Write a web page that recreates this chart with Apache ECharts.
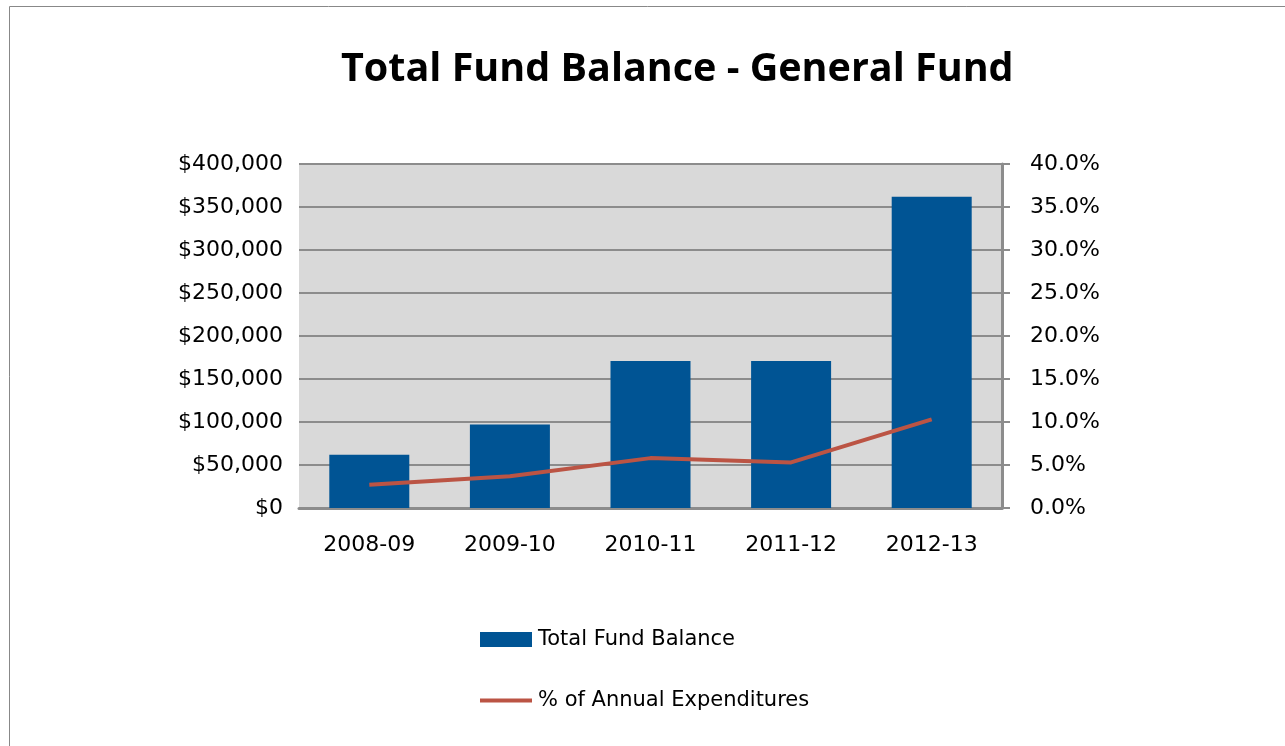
<!DOCTYPE html>
<html>
<head>
<meta charset="utf-8">
<script src="https://cdn.jsdelivr.net/npm/echarts@6/dist/echarts.min.js"></script>
<style>html,body{margin:0;padding:0;background:#fff;}#c{width:1285px;height:746px;}</style>
</head>
<body>
<div id="c"></div>
<script>
const categories = ['2008-09', '2009-10', '2010-11', '2011-12', '2012-13'];
const fundBalance = [62000, 97000, 171000, 171000, 362000];
const pctExpenditures = [2.7, 3.7, 5.8, 5.3, 10.3];
const leftTicks = { min: 0, max: 400000, interval: 50000 };
const rightTicks = { min: 0, max: 40, interval: 5 };

const titleFont = '"Open Sans", "Noto Sans", sans-serif';
const font = '"DejaVu Sans", sans-serif';
const chart = echarts.init(document.getElementById('c'));
chart.setOption({
  animation: false,
  backgroundColor: '#fff',
  title: {
    text: 'Total Fund Balance - General Fund',
    left: 336, top: 45,
    textStyle: { fontFamily: titleFont, fontWeight: 'bold', fontSize: 39.5, color: '#000' }
  },
  graphic: [{
    type: 'rect', shape: { x: 9.5, y: 6.5, width: 1290, height: 760 },
    style: { fill: 'none', stroke: '#888', lineWidth: 1 }, silent: true
  }],
  grid: { left: 299, right: 283, top: 164, bottom: 238, show: true, backgroundColor: '#d9d9d9', borderWidth: 0, borderColor: 'transparent' },
  legend: {
    orient: 'vertical', left: 473, top: 624, itemGap: 40,
    itemWidth: 52, itemHeight: 15,
    textStyle: { fontFamily: font, fontSize: 21, color: '#000', padding: [0, 0, 0, 1] },
    data: [
      { name: 'Total Fund Balance', icon: 'rect' },
      { name: '% of Annual Expenditures', itemStyle: { opacity: 0 }, lineStyle: { width: 4, color: '#bb5444' } }
    ]
  },
  xAxis: {
    type: 'category', data: categories,
    axisLine: { show: true, lineStyle: { color: '#8c8c8c', width: 3 } },
    axisTick: { show: false },
    axisLabel: { fontFamily: font, fontSize: 22, color: '#000', margin: 26 }
  },
  yAxis: [{
    type: 'value', min: leftTicks.min, max: leftTicks.max, interval: leftTicks.interval,
    axisLine: { show: false }, axisTick: { show: false },
    splitLine: { lineStyle: { color: '#8c8c8c', width: 2 } },
    axisLabel: {
      fontFamily: font, fontSize: 22, color: '#000', margin: 16,
      formatter: v => '$' + v.toLocaleString('en-US')
    }
  }, {
    type: 'value', min: rightTicks.min, max: rightTicks.max, interval: rightTicks.interval,
    position: 'right',
    axisLine: { show: true, lineStyle: { color: '#8c8c8c', width: 3 } },
    axisTick: { show: true, length: 8, lineStyle: { color: '#8c8c8c', width: 2 } },
    splitLine: { show: false },
    axisLabel: { fontFamily: font, fontSize: 22, color: '#000', margin: 28, formatter: v => v.toFixed(1) + '%' }
  }],
  series: [{
    name: 'Total Fund Balance', type: 'bar', data: fundBalance, barWidth: 80,
    itemStyle: { color: '#005494' }
  }, {
    name: '% of Annual Expenditures', type: 'line', yAxisIndex: 1, data: pctExpenditures,
    symbol: 'none', lineStyle: { color: '#bb5444', width: 4 }, itemStyle: { color: '#bb5444' }
  }]
});
</script>
</body>
</html>
